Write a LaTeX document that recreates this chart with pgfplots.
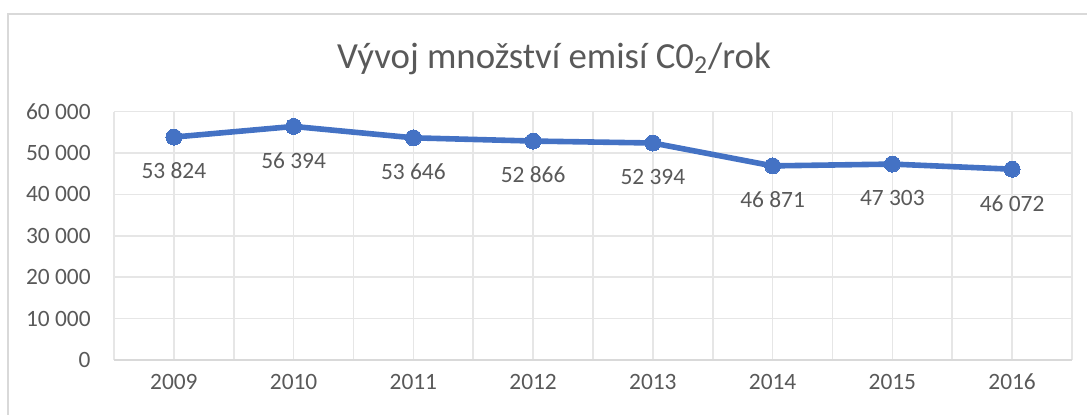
\documentclass[border=0pt]{standalone}
\usepackage{fontspec}
\setmainfont{Carlito}
\usepackage{pgfplots}
\pgfplotsset{compat=1.18}
\definecolor{txt}{HTML}{595959}
\definecolor{ln}{HTML}{4472C4}
\definecolor{grd}{HTML}{E6E6E6}
\definecolor{brd}{HTML}{D9D9D9}
\begin{document}
\begin{tikzpicture}
\useasboundingbox (0,0) rectangle (543.5pt,207pt);
\draw[brd, line width=0.8pt] (4pt,-5pt) -- (4pt,200pt) -- (560pt,200pt);
\node[anchor=base, text=txt, font=\fontsize{18.4}{21}\selectfont] at (277pt,173pt) {Vývoj množství emisí C0\textsubscript{2}/rok};
\begin{axis}[
  at={(57pt,27pt)}, anchor=south west,
  scale only axis, width=479pt, height=124.25pt,
  xmin=-0.5, xmax=7.5, ymin=0, ymax=60000,
  scaled y ticks=false,
  xtick={0,...,7},
  xticklabels={2009,2010,2011,2012,2013,2014,2015,2016},
  minor xtick={-0.5,0.5,...,7.5},
  ytick={0,10000,...,60000},
  yticklabels={0,10 000,20 000,30 000,40 000,50 000,60 000},
  xmajorgrids, xminorgrids, ymajorgrids,
  grid style={grd, line width=0.8pt},
  minor grid style={grd, line width=0.8pt},
  major tick length=0pt, minor tick length=0pt,
  axis line style={draw=none},
  tick label style={text=txt, font=\fontsize{11.7}{14}\selectfont},
  xticklabel style={anchor=center, yshift=-11pt, inner sep=0pt},
  yticklabel style={anchor=east, xshift=-11.5pt, inner sep=0pt},
  clip=false,
]
\draw[brd, line width=0.8pt] (axis cs:-0.5,0) -- (axis cs:7.5,0);
\addplot[ln, line width=2.8pt, mark=*, mark size=4pt, mark options={fill=ln, draw=ln, line width=0pt},
  point meta=explicit symbolic, nodes near coords,
  every node near coord/.append style={anchor=center, yshift=-17pt, text=txt, font=\fontsize{11.7}{14}\selectfont, inner sep=0pt}]
coordinates {
(0,53824) [53 824]
(1,56394) [56 394]
(2,53646) [53 646]
(3,52866) [52 866]
(4,52394) [52 394]
(5,46871) [46 871]
(6,47303) [47 303]
(7,46072) [46 072]
};
\end{axis}
\end{tikzpicture}
\end{document}
